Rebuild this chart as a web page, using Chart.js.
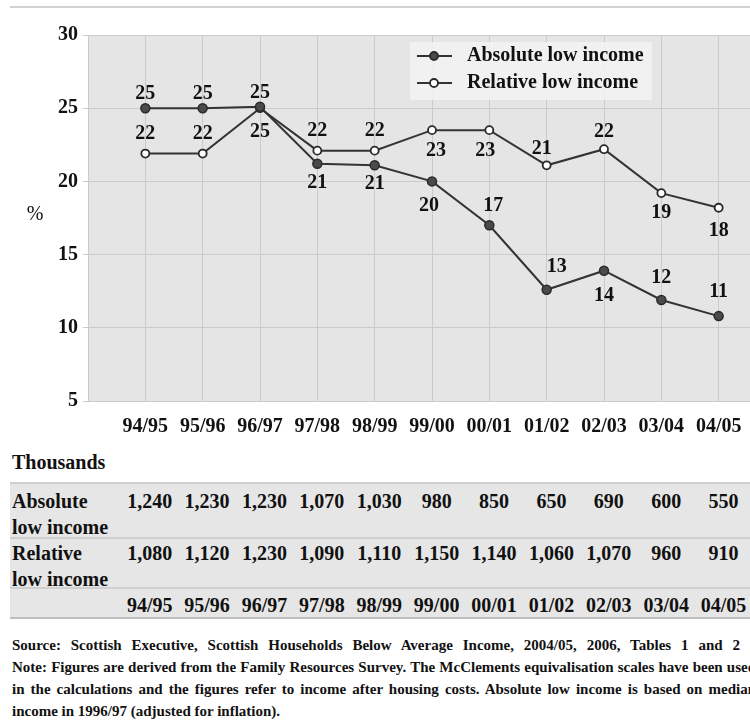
<!DOCTYPE html>
<html>
<head>
<meta charset="utf-8">
<script src="https://cdn.jsdelivr.net/npm/chart.js@4"></script>
<style>
  html,body{margin:0;padding:0;background:#fff;}
  body{width:750px;height:724px;overflow:hidden;position:relative;font-family:"Liberation Serif","Times New Roman",serif;font-weight:bold;color:#111;}
  .topline{position:absolute;left:10px;top:6px;width:740px;height:2px;background:#d2d2d2;}
  #wrap{position:absolute;left:0;top:0;width:790px;height:440px;}
  .units{position:absolute;left:12px;top:450px;font-size:20px;line-height:24px;}
  .tbl{position:absolute;left:10px;top:482px;width:745px;}
  .row{display:flex;background:#e6e6e6;border-top:2px solid #d0d0d0;box-sizing:border-box;font-size:20px;line-height:26px;}
  .row.last{border-bottom:2px solid #bdbdbd;}
  .row .lab{width:111px;flex:none;padding-left:2px;box-sizing:border-box;}
  .row .val{width:57.4px;flex:none;text-align:center;}
  .note{position:absolute;left:12px;top:634px;font-size:15px;line-height:22px;}
  .note div{white-space:nowrap;text-align:justify;text-align-last:justify;}
</style>
</head>
<body>
<div class="topline"></div>
<div id="wrap"><canvas id="c" width="790" height="440"></canvas></div>
<div class="units">Thousands</div>
<div class="tbl" id="tbl"></div>
<div class="note">
  <div style="width:728px">Source: Scottish Executive, Scottish Households Below Average Income, 2004/05, 2006, Tables 1 and 2</div>
  <div style="width:744px">Note: Figures are derived from the Family Resources Survey. The McClements equivalisation scales have been used</div>
  <div style="width:744px">in the calculations and the figures refer to income after housing costs. Absolute low income is based on median</div>
  <div style="text-align:left;text-align-last:left">income in 1996/97 (adjusted for inflation).</div>
</div>
<script>
// data
const years = ['94/95','95/96','96/97','97/98','98/99','99/00','00/01','01/02','02/03','03/04','04/05'];
const absPct = [25.0, 25.0, 25.1, 21.2, 21.1, 20.0, 17.0, 12.6, 13.9, 11.9, 10.8];
const relPct = [21.9, 21.9, 25.0, 22.1, 22.1, 23.5, 23.5, 21.1, 22.2, 19.2, 18.2];
const absLabels = [25, 25, 25, 21, 21, 20, 17, 13, 14, 12, 11];
const relLabels = [22, 22, 25, 22, 22, 23, 23, 21, 22, 19, 18];
const absThousands = [1240, 1230, 1230, 1070, 1030, 980, 850, 650, 690, 600, 550];
const relThousands = [1080, 1120, 1230, 1090, 1110, 1150, 1140, 1060, 1070, 960, 910];
const seriesNames = ['Absolute low income', 'Relative low income'];

// label placement (style only)
const absDy = [-14,-14,-14,19,19,24,-19,-23,25,-22,-24];
const absDx = [0,0,0,0,0,-3,4,10,0,0,0];
const relDy = [-20,-20,24,-20,-20,21,21,-16,-17,20,23];
const relDx = [0,0,0,0,0,4,-4,-5,0,0,0];

const FONT = '"Liberation Serif","Times New Roman",serif';
const LINE = '#333';

// table
const fmt = n => n.toLocaleString('en-GB');
const cells = arr => arr.map(v => `<div class="val">${v}</div>`).join('');
document.getElementById('tbl').innerHTML = `
  <div class="row" style="height:55px;padding-top:4px"><div class="lab">Absolute<br>low income</div>${cells(absThousands.map(fmt))}</div>
  <div class="row" style="height:50px;padding-top:1px"><div class="lab">Relative<br>low income</div>${cells(relThousands.map(fmt))}</div>
  <div class="row last" style="height:32px;padding-top:3px"><div class="lab"></div>${cells(years)}</div>`;

const extras = {
  id:'extras',
  beforeDraw(chart){
    const {ctx, chartArea:a} = chart;
    ctx.save();
    ctx.fillStyle = '#e5e5e5';
    ctx.fillRect(a.left, a.top, a.right-a.left, a.bottom-a.top);
    ctx.restore();
  },
  afterDatasetsDraw(chart){
    const ctx = chart.ctx;
    ctx.save();
    ctx.font = 'bold 20px ' + FONT;
    ctx.fillStyle = '#111';
    ctx.textAlign = 'center';
    ctx.textBaseline = 'middle';
    [[absLabels, absDx, absDy],[relLabels, relDx, relDy]].forEach(([labs, dx, dy], di)=>{
      chart.getDatasetMeta(di).data.forEach((pt, i)=>{
        ctx.fillText(String(labs[i]), pt.x + dx[i], pt.y + dy[i]);
      });
    });
    // y unit
    ctx.font = '20px ' + FONT;
    ctx.fillText('%', 35, 215);
    // legend
    ctx.fillStyle = 'rgba(242,242,242,0.9)';
    ctx.fillRect(410, 42, 242, 58);
    [0,1].forEach(k=>{
      const y = k ? 83 : 56;
      const ds = chart.data.datasets[k];
      ctx.strokeStyle = LINE; ctx.lineWidth = 2;
      ctx.beginPath(); ctx.moveTo(417, y); ctx.lineTo(452, y); ctx.stroke();
      ctx.beginPath(); ctx.arc(434, y, 4, 0, Math.PI*2);
      ctx.fillStyle = ds.pointBackgroundColor; ctx.fill();
      ctx.lineWidth = 1.8; ctx.strokeStyle = ds.pointBorderColor; ctx.stroke();
      ctx.fillStyle = '#111';
      ctx.font = 'bold 20px ' + FONT;
      ctx.textAlign = 'left';
      ctx.fillText(seriesNames[k], 467, y);
    });
    ctx.restore();
  }
};

new Chart(document.getElementById('c'), {
  type:'line',
  data:{
    datasets:[
      { label:seriesNames[0], data:absPct.map((v,i)=>({x:i,y:v})),
        borderColor:LINE, borderWidth:2, tension:0,
        pointRadius:4.5, pointBackgroundColor:'#4a4a4a', pointBorderColor:'#2a2a2a', pointBorderWidth:1.5 },
      { label:seriesNames[1], data:relPct.map((v,i)=>({x:i,y:v})),
        borderColor:LINE, borderWidth:2, tension:0,
        pointRadius:4, pointBackgroundColor:'#ffffff', pointBorderColor:'#2a2a2a', pointBorderWidth:1.8 }
    ]
  },
  options:{
    responsive:false, animation:false, devicePixelRatio:1,
    layout:{ padding:{ left:0, top:35, right:14, bottom:0 } },
    plugins:{ legend:{display:false}, tooltip:{enabled:false} },
    scales:{
      x:{
        type:'linear', min:-1, max:11,
        afterFit: s => { s.height = 39; },
        afterBuildTicks: s => { s.ticks = []; for(let v=-1; v<=11; v++) s.ticks.push({value:v}); },
        grid:{ color:'#cbcbcb', lineWidth:1, drawTicks:false },
        border:{ display:true, color:'#cbcbcb' },
        ticks:{ padding:14, autoSkip:false, maxRotation:0, color:'#111',
          font:{ family:FONT, size:20, weight:'bold' },
          callback: v => years[v] || '' }
      },
      y:{
        min:5, max:30,
        afterFit: s => { s.width = 88; },
        grid:{ color:'#cbcbcb', lineWidth:1, tickLength:5 },
        border:{ display:true, color:'#cbcbcb' },
        ticks:{ stepSize:5, padding:5, color:'#111',
          font:{ family:FONT, size:20, weight:'bold' } }
      }
    }
  },
  plugins:[extras]
});
</script>
</body>
</html>
